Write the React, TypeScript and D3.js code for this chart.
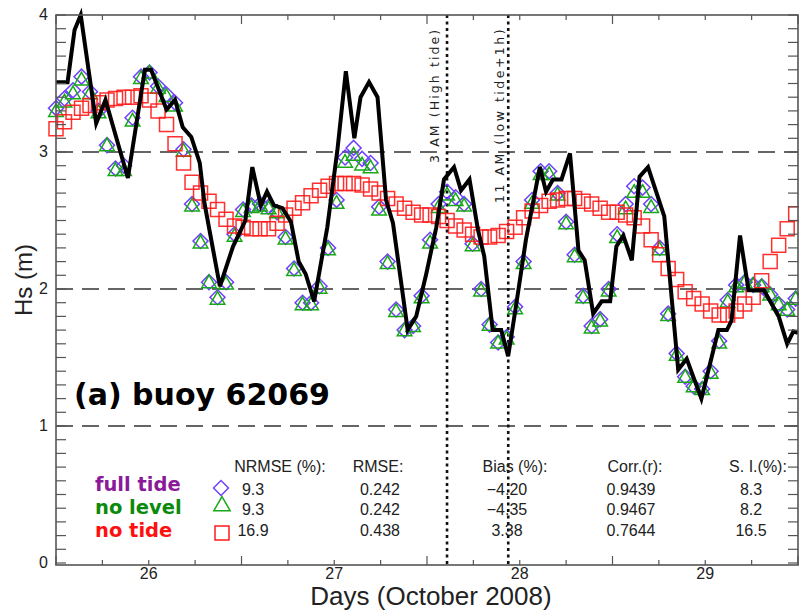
import React from 'react'
import * as d3 from 'd3'

// axis ticks / reference lines
const xTickDays = [26, 27, 28, 29]
const yTickValues = [0, 1, 2, 3, 4]
const gridValues = [1, 2, 3]
const tideMarkDays = [27.608, 27.938]
const tideLabels = ['3 AM  (High tide)', '11 AM  (low tide+1h)']

// model output, one value every ~1.1 h from day 25.5
const modelStepHours = 1.1
const fullTide = [
  3.32, 3.39, 3.45, 3.55, 3.44, 3.30, 3.05, 2.88, 2.90, 3.25, 3.55, 3.58, 3.48, 3.42, 3.36,
  3.02, 2.62, 2.35, 2.05, 1.94, 2.05, 2.40, 2.58, 2.61, 2.62, 2.60, 2.56, 2.38, 2.15, 1.90,
  1.90, 2.02, 2.30, 2.65, 2.96, 3.03, 2.95, 2.92, 2.60, 2.20, 1.85, 1.70, 1.73, 1.95, 2.36,
  2.62, 2.71, 2.67, 2.62, 2.33, 2.00, 1.74, 1.61, 1.65, 1.87, 2.20, 2.65, 2.86, 2.86, 2.70,
  2.49, 2.25, 1.95, 1.73, 1.78, 2.00, 2.40, 2.62, 2.75, 2.74, 2.62, 2.30, 1.82, 1.53, 1.36,
  1.29, 1.27, 1.40, 1.62, 1.92, 2.03, 2.05, 2.03, 2.02, 1.96, 1.89, 1.85, 1.93,
]
const noLevel = [
  3.29, 3.36, 3.42, 3.52, 3.42, 3.28, 3.04, 2.86, 2.86, 3.22, 3.53, 3.57, 3.46, 3.40, 3.33,
  3.00, 2.60, 2.33, 2.04, 1.92, 2.03, 2.38, 2.56, 2.59, 2.60, 2.58, 2.55, 2.36, 2.13, 1.88,
  1.88, 2.00, 2.28, 2.62, 2.92, 2.97, 2.90, 2.88, 2.57, 2.18, 1.83, 1.69, 1.72, 1.93, 2.33,
  2.59, 2.68, 2.64, 2.60, 2.31, 1.98, 1.73, 1.60, 1.63, 1.85, 2.18, 2.62, 2.83, 2.83, 2.68,
  2.47, 2.23, 1.93, 1.71, 1.76, 1.98, 2.37, 2.58, 2.70, 2.70, 2.59, 2.28, 1.80, 1.51, 1.35,
  1.28, 1.26, 1.38, 1.60, 1.90, 2.01, 2.04, 2.02, 2.01, 1.95, 1.88, 1.84, 1.92,
]
const noTide = [
  3.17, 3.22, 3.29, 3.32, 3.34, 3.36, 3.38, 3.39, 3.40, 3.40, 3.41, 3.38, 3.30, 3.20, 3.06,
  2.92, 2.78, 2.70, 2.64, 2.58, 2.51, 2.46, 2.45, 2.44, 2.44, 2.44, 2.48, 2.54, 2.59, 2.63,
  2.68, 2.72, 2.75, 2.77, 2.77, 2.77, 2.76, 2.73, 2.70, 2.66, 2.62, 2.59, 2.56, 2.54, 2.54,
  2.53, 2.50, 2.46, 2.43, 2.40, 2.38, 2.38, 2.39, 2.42, 2.45, 2.52, 2.57, 2.61, 2.64, 2.65,
  2.66, 2.66, 2.64, 2.62, 2.59, 2.56, 2.56, 2.54, 2.52, 2.46, 2.36, 2.25, 2.15, 2.07, 1.98,
  1.93, 1.89, 1.84, 1.81, 1.81, 1.84, 1.89, 1.94, 2.06, 2.20, 2.32, 2.44, 2.55,
]

// buoy observations (hours after day 25.5, Hs in m)
const obsHours = [
  0, 1.5, 2.4, 3.2, 5.2, 6.4, 9.3, 11.5, 12.3, 14.3, 15.4, 16.4, 17.5, 18.6, 19.2, 21.2,
  22.9, 24.5, 25.4, 26.5, 27.3, 28.2, 29.3, 30.4, 31.4, 32.3, 33.4, 35.1, 36.4, 37.5, 38.6,
  39.4, 40.5, 41.6, 42.7, 43.6, 45.5, 46.6, 47.9, 49.2, 50.2, 51.5, 52.4, 53.5, 54.6, 55.4,
  56.5, 57.6, 58.5, 59.5, 60.8, 62.6, 63.4, 64.3, 65.4, 66.5, 67.6, 68.4, 69.5, 70.6, 71.7,
  72.5, 73.4, 74.5, 75.5, 76.6, 78.7, 80.5, 81.6, 83.5, 85.7, 86.8, 87.4, 88.5, 89.6, 91.6,
  93.5, 94.6, 95.4, 96,
]
const obsHs = [
  3.51, 3.51, 3.89, 4.0, 3.21, 3.38, 2.81, 3.60, 3.60, 3.31, 3.38, 3.18, 3.11, 2.92, 2.63, 2.02,
  2.31, 2.50, 2.89, 2.61, 2.71, 2.61, 2.59, 2.49, 2.20, 2.11, 1.91, 2.45, 3.01, 3.59, 3.10,
  3.40, 3.51, 3.40, 2.65, 2.48, 1.70, 1.80, 2.11, 2.45, 2.80, 2.89, 2.72, 2.80, 2.43, 2.24,
  1.70, 1.70, 1.51, 1.87, 2.36, 2.89, 2.71, 2.80, 2.80, 2.99, 2.28, 2.21, 1.82, 1.91, 1.91,
  2.31, 2.39, 2.21, 2.82, 2.89, 2.53, 1.41, 1.49, 1.20, 1.70, 1.70, 1.77, 2.39, 1.99, 1.99,
  1.80, 1.60, 1.69, 1.68,
]

// legend / statistics table
const legendNames = ['full tide', 'no level', 'no tide']
const legendColors = ['#8a1a9a', '#0a8a0a', '#ff1010']
const statHeaders = ['NRMSE (%):', 'RMSE:', 'Bias (%):', 'Corr.(r):', 'S. I.(%):']
const nrmse = ['9.3', '9.3', '16.9']
const rmse = ['0.242', '0.242', '0.438']
const bias = ['\u22124.20', '\u22124.35', '3.38']
const corr = ['0.9439', '0.9467', '0.7644']
const si = ['8.3', '8.2', '16.5']

const diamondColor = '#7040ff'
const triColor = '#18a818'
const squareColor = '#ff1a1a'

export default function App() {
  const left = 56, right = 798, top = 15, bottom = 565
  const x = d3.scaleLinear().domain([25.5, 29.5]).range([left, right])
  const y = d3.scaleLinear().domain([0, 4]).range([563, top])

  const modelDays = fullTide.map((_, i) => 25.5 + (i * modelStepHours) / 24)
  const obsLine = d3.line<number>()
    .x((h) => x(25.5 + h / 24))
    .y((_, i) => y(obsHs[i]))
    .curve(d3.curveLinear)

  const diamond = d3.symbol().type(d3.symbolSquare).size(112)()
  const triangle = d3.symbol().type(d3.symbolTriangle).size(92)()
  const square = d3.symbol().type(d3.symbolSquare).size(196)()

  const quarterDays = d3.range(25.5, 29.51, 0.25)
  const tenths = d3.range(0, 4.001, 0.1)

  const statCols = [nrmse, rmse, bias, corr, si]
  const headerX = [280, 378, 515, 635, 758]
  const valueX = [253, 380, 507, 631, 751]
  const rowBase = [495, 515, 536]
  const font = 'Liberation Sans, Arial, sans-serif'

  return (
    <svg width={799} height={613} style={{ position: 'absolute', left: 0, top: 0, background: '#fff' }}
      fontFamily={font}>
      {/* dashed grid */}
      {gridValues.map((v) => (
        <line key={'g' + v} x1={left} x2={right} y1={y(v)} y2={y(v)}
          stroke="#333" strokeWidth={1.4} strokeDasharray="17,9" />
      ))}

      {/* tide reference lines */}
      {tideMarkDays.map((d, i) => (
        <g key={'t' + i}>
          <line x1={x(d)} x2={x(d)} y1={top} y2={bottom} stroke="#111" strokeWidth={2.6}
            strokeDasharray="3,3.5" />
          <text transform={`translate(${x(d) - (i === 0 ? 8 : 4)},${i === 0 ? 163 : 203}) rotate(-90)`}
            fontSize={12.5} fontFamily="DejaVu Sans, sans-serif" letterSpacing={i === 0 ? 2.1 : 2.5}
            fill="#222">{tideLabels[i]}</text>
        </g>
      ))}

      {/* model series */}
      {fullTide.map((v, i) => (
        <path key={'d' + i} d={diamond} transform={`translate(${x(modelDays[i])},${y(v)}) rotate(45)`}
          fill="none" stroke={diamondColor} strokeWidth={1.5} />
      ))}
      {noLevel.map((v, i) => (
        <path key={'n' + i} d={triangle} transform={`translate(${x(modelDays[i])},${y(v)})`}
          fill="none" stroke={triColor} strokeWidth={1.5} />
      ))}
      {noTide.map((v, i) => (
        <path key={'s' + i} d={square} transform={`translate(${x(modelDays[i])},${y(v)})`}
          fill="none" stroke={squareColor} strokeOpacity={0.9} strokeWidth={1.5} />
      ))}

      {/* observations */}
      <path d={obsLine(obsHours) || ''} fill="none" stroke="#000" strokeWidth={4} strokeLinejoin="miter" />

      {/* frame and ticks */}
      <rect x={left} y={top} width={right - left} height={bottom - top} fill="none" stroke="#555" strokeWidth={1.6} />
      {quarterDays.map((d, i) => {
        const len = Math.abs((d * 2) % 2 - 1) < 0.01 ? 9 : 5
        return (
          <g key={'xt' + i} stroke="#555" strokeWidth={1.2}>
            <line x1={x(d)} x2={x(d)} y1={bottom} y2={bottom - len} />
            <line x1={x(d)} x2={x(d)} y1={top} y2={top + len} />
          </g>
        )
      })}
      {tenths.map((v, i) => (
        <g key={'yt' + i} stroke="#555" strokeWidth={1.2}>
          <line x1={left} x2={left + 10} y1={y(v)} y2={y(v)} />
          <line x1={right} x2={right - 10} y1={y(v)} y2={y(v)} />
        </g>
      ))}
      {yTickValues.map((v) => (
        <text key={'yl' + v} x={48} y={y(v) + 5} textAnchor="end" fontSize={16} fill="#222">{v}</text>
      ))}
      {xTickDays.map((d) => (
        <text key={'xl' + d} x={x(d)} y={579} textAnchor="middle" fontSize={16} fill="#222">{d}</text>
      ))}
      <text x={431} y={605} textAnchor="middle" fontSize={26} fill="#222">Days (October 2008)</text>
      <text transform="translate(32,280) rotate(-90)" textAnchor="middle" fontSize={24} fill="#222">Hs (m)</text>

      <text x={74} y={405} fontSize={30} fontWeight="bold" fontFamily="DejaVu Sans, sans-serif" fill="#000">
        (a) buoy 62069
      </text>

      {/* legend */}
      {legendNames.map((n, i) => (
        <text key={'ln' + i} x={95} y={[491, 514, 537][i]} fontSize={19.5} fontWeight="bold"
          fontFamily="DejaVu Sans, sans-serif" fill={legendColors[i]}>{n}</text>
      ))}
      <path d={diamond} transform="translate(221,488) rotate(45)" fill="none" stroke={diamondColor} strokeWidth={1.5} />
      <path d={d3.symbol().type(d3.symbolTriangle).size(115)()} transform="translate(222,506)" fill="none" stroke={triColor} strokeWidth={1.5} />
      <path d={square} transform="translate(222,533)" fill="none" stroke={squareColor} strokeWidth={1.5} />

      {statHeaders.map((h, i) => (
        <text key={'h' + i} x={headerX[i]} y={472} textAnchor="middle" fontSize={16} fill="#222">{h}</text>
      ))}
      {statCols.map((col, c) => col.map((v, r) => (
        <text key={'v' + c + r} x={valueX[c]} y={rowBase[r]} textAnchor="middle" fontSize={16} fill="#222">{v}</text>
      )))}
    </svg>
  )
}
